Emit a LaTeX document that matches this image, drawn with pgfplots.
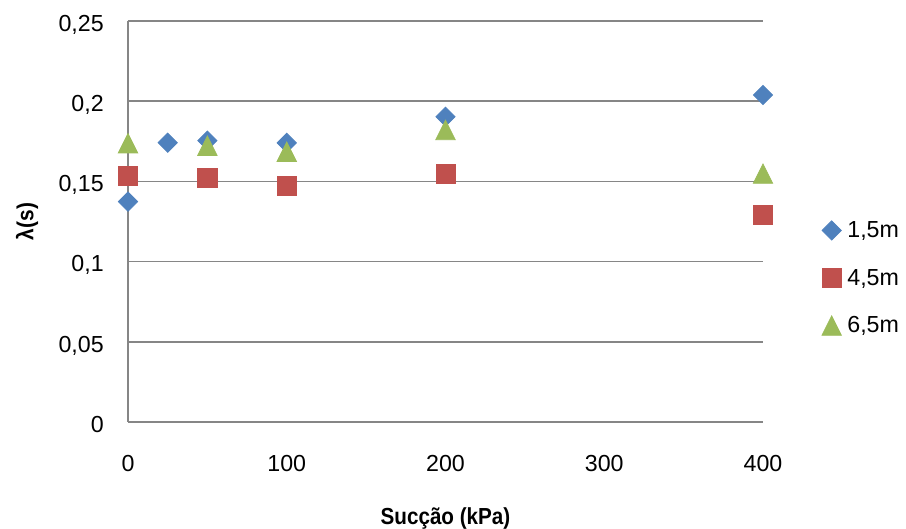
\documentclass[border=0pt]{standalone}
\usepackage{fontspec}
\setmainfont{Liberation Sans}
\usepackage{pgfplots}
\pgfplotsset{compat=1.18}
\usepackage{graphicx}
\definecolor{cblue}{RGB}{79,129,189}
\definecolor{cred}{RGB}{192,80,77}
\definecolor{cgreen}{RGB}{155,187,89}
\definecolor{cgrid}{RGB}{134,134,134}
\begin{document}
\begin{tikzpicture}
\path[use as bounding box] (0,0) rectangle (453pt,264.5pt);
\begin{axis}[
  at={(64pt,53.5pt)}, anchor=south west,
  scale only axis, width=317.5pt, height=200.5pt,
  font=\fontsize{11.6}{13.9}\selectfont,
  xmin=0, xmax=400, ymin=0, ymax=0.25,
  clip=false,
  axis x line*=bottom, axis y line*=left,
  axis line style={cgrid, line width=0.75pt, -},
  ymajorgrids, grid style={cgrid, line width=0.75pt},
  major tick length=0pt,
  xtick={0,100,200,300,400},
  xticklabels={0,100,200,300,400},
  ytick={0,0.05,0.1,0.15,0.2,0.25},
  yticklabels={0,{0,05},{0,1},{0,15},{0,2},{0,25}},
  xticklabel style={anchor=base, yshift=-25pt},
  yticklabel style={anchor=base east, xshift=-8.6pt, yshift=-5.2pt},
  xlabel={\scalebox{0.89}[1]{\bfseries Sucção (kPa)}},
  xlabel style={at={(axis description cs:0.5,-0.2419)}, anchor=center},
  ylabel={\scalebox{0.9}[1]{\bfseries λ(s)}},
  ylabel style={at={(axis description cs:-0.159,0.5)}, anchor=center},
  legend style={at={(axis description cs:1.0929,0.359)}, anchor=west,
    draw=none, fill=none, inner sep=0pt, outer sep=0pt, row sep=9.8pt,
    nodes={text height=8.5pt, text depth=1.5pt},
    /tikz/every odd column/.append style={column sep=1pt}},
  legend cell align=left,
  legend image code/.code={\draw[#1] plot coordinates {(0pt,0pt)};},
]
\addplot[only marks, mark=square*, color=cblue, mark size=3.4pt, mark options={rotate=45}]
  coordinates {(0,0.1374) (25,0.1741) (50,0.1754) (100,0.1740) (200,0.1903) (400,0.2039)};
\addlegendentry{1,5m}
\addplot[only marks, mark=square*, color=cred, mark size=4.8pt]
  coordinates {(0,0.1532) (50,0.1520) (100,0.1471) (200,0.1545) (400,0.1292)};
\addlegendentry{4,5m}
\addplot[only marks, mark=triangle*, color=cgreen, mark size=5.6pt, mark options={yshift=-1.6pt, yscale=1.15}]
  coordinates {(0,0.1738) (50,0.1722) (100,0.1685) (200,0.1820) (400,0.1548)};
\addlegendentry{6,5m}
\end{axis}
\end{tikzpicture}
\end{document}
